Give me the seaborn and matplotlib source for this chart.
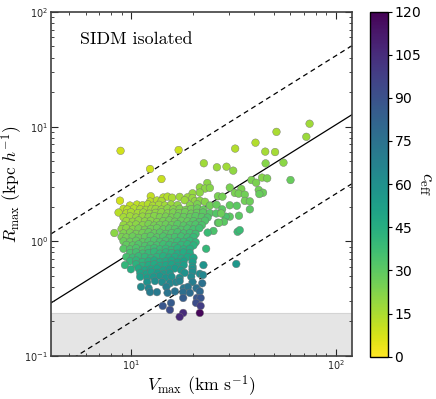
import numpy as np
import pandas as pd
import matplotlib
matplotlib.use('Agg')
import matplotlib.pyplot as plt
import seaborn as sb

# main cloud, one line per band of Rmax
vmax = [23.6,
        21.7, 23.0, 24.3, 30.4, 34.6,
        20.0, 21.7, 32.2, 33.6, 36.0,
        12.5, 14.4, 15.1, 15.9, 17.3, 18.9, 20.0, 26.6, 28.0,
        8.84, 12.4, 13.4, 14.1, 18.3, 20.5, 21.7, 23.0, 36.0, 38.1,
        9.89, 10.7, 11.4, 12.1, 12.8, 13.7, 14.65, 15.7, 16.9, 19.4, 21.1, 24.3, 26.2, 30.4, 32.9,
        9.2, 9.6, 10.35, 11.1, 11.85, 12.6, 13.2, 14.1, 15.1, 16.1, 17.3, 18.5, 19.7, 21.1, 22.6, 27.9, 38.1,
        8.7, 9.5, 10.0, 10.8, 11.5, 12.3, 13.2, 14.1, 15.1, 16.1, 17.2, 18.4, 19.7, 21.0, 22.5, 24.3, 26.1, 30.4,
        9.2, 9.9, 10.6, 11.4, 12.2, 13.0, 13.85, 14.8, 15.8, 16.9, 18.1, 19.4, 20.7, 22.2, 23.7, 29.0,
        9.5, 10.2, 10.9, 11.7, 12.5, 13.4, 14.4, 15.4, 16.4, 17.6, 18.9, 20.2, 21.6, 23.0, 26.6,
        9.2, 9.9, 10.6, 11.4, 12.2, 13.0, 13.85, 14.8, 15.8, 16.9, 18.1, 19.4, 20.7, 22.2, 28.5,
        9.0, 9.5, 10.2, 10.9, 11.7, 12.5, 13.4, 14.4, 15.4, 16.4, 17.6, 18.9, 20.2, 21.6, 25.3,
        8.3, 9.2, 9.9, 10.6, 11.4, 12.2, 13.0, 13.85, 14.8, 15.8, 16.9, 18.1, 19.4, 20.7, 23.7,
        9.0, 9.5, 10.2, 10.9, 11.7, 12.5, 13.4, 14.4, 15.4, 16.4, 17.6, 18.9, 20.2,
        9.2, 9.9, 10.6, 11.4, 12.2, 13.0, 13.85, 14.8, 15.8, 16.9, 18.1, 19.4, 20.7,
        9.5, 10.2, 10.9, 11.7, 12.5, 13.4, 14.4, 15.4, 16.4, 17.6, 18.9, 20.2,
        9.2, 9.9, 10.6, 11.4, 12.2, 13.0, 13.85, 14.8, 15.8, 16.9, 18.1, 19.4, 23.3,
        9.9, 10.6, 11.4, 12.2, 13.0, 13.85, 14.8, 15.8, 16.9, 18.1, 19.4,
        9.5, 10.2, 10.9, 11.7, 12.5, 13.4, 14.4, 15.4, 16.4, 17.6, 18.9, 20.2,
        9.9, 10.6, 11.4, 12.2, 13.0, 13.85, 14.8, 15.8, 16.9, 18.1, 20.0,
        9.35, 10.6, 11.4, 12.2, 13.0, 13.85, 14.8, 15.8, 16.9, 18.1, 20.0, 22.6, 32.7,
        10.0, 10.9, 11.7, 12.5, 13.4, 14.4, 15.4, 16.4, 17.6, 20.0,
        11.1, 11.9, 12.6, 13.5, 14.5, 15.5, 18.3, 20.0, 21.7,
        11.1, 12.0, 12.9, 13.85, 14.8, 15.8, 17.3, 19.7, 22.5,
        12.0, 13.1, 14.2, 15.5, 16.6, 17.3, 20.0, 22.3,
        11.2, 12.2, 14.9, 18.1, 19.0, 20.9,
        12.4, 13.4, 15.1, 16.4, 18.0, 19.4, 21.7,
        18.0, 21.0, 21.9, 15.7, 20.8, 14.3, 21.9, 15.5, 18.0, 21.7, 17.3]

rmax = [3.22,
        2.95, 2.88, 2.92, 2.94, 2.86,
        2.62, 2.66, 2.64, 2.60, 2.55,
        2.47, 2.41, 2.45, 2.40, 2.44, 2.42, 2.38, 2.47, 2.45,
        2.26, 2.22, 2.27, 2.24, 2.28, 2.23, 2.26, 2.21, 2.25, 2.23,
        2.05, 2.09, 2.06, 2.10, 2.04, 2.08, 2.05, 2.09, 2.07, 2.06, 2.10, 2.05, 2.08, 2.06, 2.04,
        1.92, 1.89, 1.93, 1.90, 1.88, 1.92, 1.91, 1.89, 1.93, 1.90, 1.92, 1.88, 1.91, 1.93, 1.89, 1.90, 1.90,
        1.78, 1.75, 1.79, 1.76, 1.78, 1.74, 1.77, 1.79, 1.75, 1.78, 1.76, 1.79, 1.74, 1.77, 1.78, 1.76, 1.75, 1.64,
        1.62, 1.65, 1.61, 1.64, 1.63, 1.66, 1.62, 1.64, 1.61, 1.65, 1.63, 1.62, 1.66, 1.63, 1.61, 1.64,
        1.50, 1.48, 1.52, 1.49, 1.51, 1.47, 1.50, 1.52, 1.48, 1.51, 1.49, 1.50, 1.47, 1.51, 1.45,
        1.39, 1.37, 1.40, 1.38, 1.41, 1.37, 1.39, 1.40, 1.38, 1.41, 1.37, 1.39, 1.40, 1.38, 1.48,
        1.28, 1.30, 1.27, 1.29, 1.26, 1.28, 1.30, 1.27, 1.29, 1.28, 1.26, 1.29, 1.27, 1.30, 1.23,
        1.18, 1.17, 1.19, 1.16, 1.18, 1.20, 1.17, 1.19, 1.16, 1.18, 1.20, 1.17, 1.18, 1.16, 1.19,
        1.09, 1.08, 1.10, 1.07, 1.09, 1.11, 1.08, 1.10, 1.07, 1.09, 1.10, 1.08, 1.09,
        1.00, 0.99, 1.01, 0.98, 1.00, 1.02, 0.99, 1.01, 0.98, 1.00, 0.99, 1.01, 0.98,
        0.93, 0.92, 0.94, 0.91, 0.93, 0.92, 0.94, 0.93, 0.91, 0.93, 0.94, 0.92,
        0.86, 0.85, 0.87, 0.84, 0.86, 0.87, 0.85, 0.86, 0.84, 0.87, 0.85, 0.86, 0.86,
        0.79, 0.80, 0.78, 0.79, 0.81, 0.78, 0.80, 0.79, 0.78, 0.80, 0.79,
        0.73, 0.72, 0.74, 0.73, 0.71, 0.73, 0.74, 0.72, 0.73, 0.71, 0.73, 0.72,
        0.67, 0.68, 0.66, 0.67, 0.68, 0.66, 0.67, 0.68, 0.66, 0.67, 0.66,
        0.62, 0.63, 0.61, 0.62, 0.63, 0.61, 0.62, 0.63, 0.61, 0.62, 0.60, 0.62, 0.634,
        0.57, 0.58, 0.56, 0.57, 0.58, 0.56, 0.57, 0.58, 0.56, 0.57,
        0.53, 0.52, 0.54, 0.53, 0.52, 0.53, 0.53, 0.54, 0.52,
        0.49, 0.48, 0.49, 0.50, 0.48, 0.49, 0.48, 0.49, 0.508,
        0.44, 0.45, 0.44, 0.43, 0.44, 0.45, 0.44, 0.43,
        0.40, 0.39, 0.40, 0.39, 0.40, 0.39,
        0.36, 0.36, 0.355, 0.365, 0.36, 0.355, 0.365,
        0.32, 0.32, 0.32, 0.29, 0.29, 0.273, 0.273, 0.252, 0.237, 0.237, 0.219]

ceff = [21,
        20, 21, 22, 24, 24,
        19, 21, 24, 25, 26,
        11, 13, 14, 15, 17, 18, 19, 24, 25,
        8, 13, 14, 15, 18, 20, 21, 22, 26, 27,
        11, 12, 13, 14, 15, 16, 17, 18, 20, 22, 24, 26, 28, 29, 30,
        12, 13, 14, 15, 16, 17, 18, 19, 21, 22, 23, 24, 25, 27, 28, 30, 30,
        13, 14, 15, 16, 18, 19, 20, 21, 22, 24, 25, 26, 27, 28, 30, 31, 32, 30,
        16, 17, 18, 19, 21, 22, 23, 24, 25, 27, 28, 29, 30, 31, 33, 34,
        17, 19, 20, 21, 22, 23, 25, 26, 27, 28, 29, 31, 32, 33, 33,
        19, 20, 21, 22, 24, 25, 26, 27, 28, 30, 31, 32, 33, 34, 30,
        20, 21, 22, 24, 25, 26, 27, 29, 30, 31, 32, 33, 35, 36, 34,
        21, 23, 24, 25, 26, 28, 29, 30, 31, 32, 34, 35, 36, 37, 38,
        24, 25, 27, 28, 29, 30, 31, 33, 34, 35, 36, 37, 39,
        27, 28, 29, 30, 32, 33, 34, 35, 36, 38, 39, 40, 41,
        29, 30, 32, 33, 34, 35, 37, 38, 39, 40, 41, 43,
        31, 32, 33, 34, 36, 37, 38, 39, 40, 42, 43, 44, 40,
        35, 36, 37, 39, 40, 41, 42, 43, 45, 46, 47,
        36, 38, 39, 40, 41, 42, 44, 45, 46, 47, 48, 50,
        40, 41, 42, 44, 45, 46, 47, 48, 50, 51, 53,
        41, 43, 44, 46, 47, 48, 49, 50, 52, 53, 55, 58, 56,
        45, 47, 48, 49, 50, 52, 53, 54, 55, 58,
        50, 51, 52, 54, 55, 56, 59, 61, 62,
        53, 54, 56, 57, 58, 59, 61, 63, 65,
        59, 61, 62, 64, 65, 66, 69, 75,
        63, 65, 68, 72, 73, 75,
        70, 71, 74, 75, 77, 78, 80,
        85, 88, 89, 86, 92, 88, 98, 92, 105, 118, 106]

# scattered haloes away from the main cloud
vmax_out = [8.9, 17.1, 12.4, 14.1, 22.7, 26.3, 29.3, 31.6, 32.3, 40.6, 45.3, 51.4, 50.6, 45.5, 55.6,
            71.9, 74.6, 60.2, 38.8, 40.9, 43.7, 46.3, 42.1, 44.2, 42.4, 33.7, 27.6, 26.9, 33.2, 34.0]
rmax_out = [6.15, 6.25, 4.27, 3.49, 4.79, 4.42, 4.47, 4.13, 6.43, 7.24, 6.05, 9.0, 6.0, 4.78, 4.85,
            8.15, 10.6, 3.42, 3.42, 3.24, 3.59, 3.54, 2.80, 2.65, 2.58, 1.67, 1.75, 1.45, 1.21, 1.25]
ceff_out = [8, 9, 9, 10, 17, 18, 17, 20, 14, 14, 16, 15, 16, 22, 21,
            18, 17, 28, 24, 24, 22, 24, 26, 27, 28, 30, 27, 29, 38, 38]

# Rmax-Vmax relation and its scatter band
rel_norm = 0.0604
rel_slope = 1.117
rel_factor = 4.0
resolution_limit = 0.237

df = pd.DataFrame({'Vmax': vmax + vmax_out,
                   'Rmax': rmax + rmax_out,
                   'ceff': ceff + ceff_out})

plt.rcParams['font.family'] = ['DejaVu Sans']
plt.rcParams['axes.formatter.use_mathtext'] = True

fig = plt.figure(figsize=(4.36, 3.99), dpi=100)
ax = fig.add_axes([0.117, 0.108, 0.690, 0.862])
cax = fig.add_axes([0.849, 0.106, 0.041, 0.865])

xlim = (4.07, 120)
ylim = (0.1, 100)

ax.axhspan(ylim[0], resolution_limit, facecolor='#e5e5e5', edgecolor='#d4d4d4', lw=0.8, zorder=0)

vline = np.geomspace(xlim[0], xlim[1], 50)
rline = rel_norm * vline ** rel_slope
ax.plot(vline, rline, color='black', lw=0.9, zorder=1)
ax.plot(vline, rline * rel_factor, color='black', lw=0.9, ls=(0, (4, 3)), zorder=1)
ax.plot(vline, rline / rel_factor, color='black', lw=0.9, ls=(0, (4, 3)), zorder=1)

sb.scatterplot(data=df, x='Vmax', y='Rmax', hue='ceff', palette='viridis_r', hue_norm=(0, 120),
               s=30, edgecolor='0.45', linewidth=0.3, legend=False, ax=ax, zorder=3)

ax.set_xscale('log')
ax.set_yscale('log')
ax.set_xlim(*xlim)
ax.set_ylim(*ylim)

ax.text(0.095, 0.92, 'SIDM isolated', transform=ax.transAxes, fontsize=12.9,
        fontfamily='cmr10', va='center', ha='left')
ax.set_xlabel(r'$V_{\rm max}$ (km s$^{-1}$)', fontsize=12.7, fontfamily='cmr10',
              math_fontfamily='cm', labelpad=1)
ax.set_ylabel(r'$R_{\rm max}$ (kpc $h^{-1}$)', fontsize=12.5, fontfamily='cmr10',
              math_fontfamily='cm', labelpad=0)

for side in ax.spines.values():
    side.set_color('0.25')
    side.set_linewidth(1.2)
ax.tick_params(which='both', direction='in', top=True, right=True, labelsize=7, colors='0.15', pad=2)
ax.tick_params(which='major', length=5, width=0.8)
ax.tick_params(which='minor', length=2.5, width=0.6)

sm = plt.cm.ScalarMappable(cmap='viridis_r', norm=plt.Normalize(0, 120))
cbar = fig.colorbar(sm, cax=cax, ticks=np.arange(0, 121, 15))
cbar.outline.set_linewidth(1.0)
cbar.ax.tick_params(labelsize=10, length=3, width=0.8, pad=1)
cbar.set_label(r'$c_{\rm eff}$', fontsize=13, math_fontfamily='cm', rotation=270, labelpad=10)

fig.savefig('out.png', dpi=100)
